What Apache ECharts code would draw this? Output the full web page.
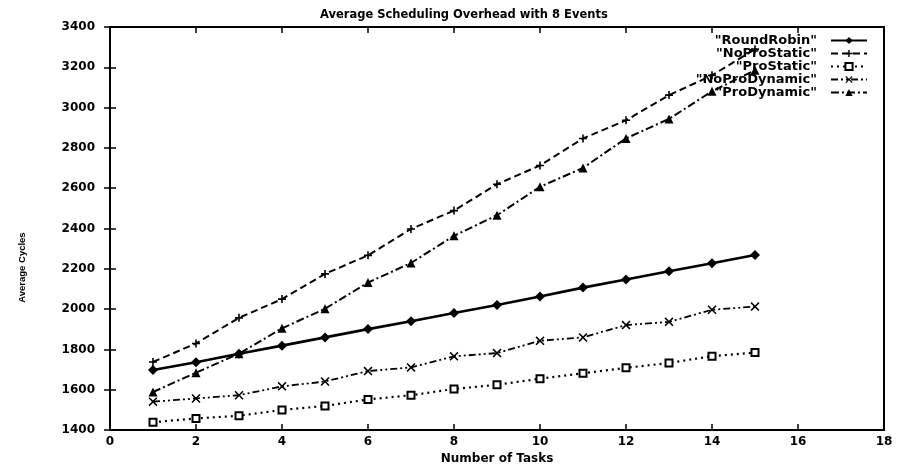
<!DOCTYPE html>
<html><head><meta charset="utf-8">
<script src="https://cdn.jsdelivr.net/npm/echarts@6/dist/echarts.min.js"></script>
<style>html,body{margin:0;padding:0;background:#fff}#c{width:898px;height:470px}</style>
</head><body><div id="c"></div>
<script>
const tasks = [1,2,3,4,5,6,7,8,9,10,11,12,13,14,15];
const roundRobin   = [1698,1737,1779,1819,1860,1901,1940,1981,2021,2063,2107,2147,2188,2228,2269];
const noProStatic  = [1738,1830,1957,2050,2175,2267,2398,2489,2620,2713,2847,2937,3062,3160,3290];
const proStatic    = [1439,1458,1471,1500,1520,1552,1573,1604,1625,1655,1682,1709,1733,1767,1785];
const noProDynamic = [1541,1557,1573,1617,1641,1693,1711,1766,1782,1843,1860,1921,1937,1997,2013];
const proDynamic   = [1589,1685,1779,1905,2002,2132,2229,2364,2466,2607,2701,2847,2944,3081,3185];
const seriesNames  = ['"RoundRobin"','"NoProStatic"','"ProStatic"','"NoProDynamic"','"ProDynamic"'];
const xTicks = [0,2,4,6,8,10,12,14,16,18];
const yTicks = [1400,1600,1800,2000,2200,2400,2600,2800,3000,3200,3400];

const FONT = 'DejaVu Sans';
const pair = arr => tasks.map((t,i)=>[t, arr[i]]);
const PLUS = 'path://M4,0H6V4H10V6H6V10H4V6H0V4H4Z';
const CROSS = 'path://M0,1.2L1.2,0L5,3.8L8.8,0L10,1.2L6.2,5L10,8.8L8.8,10L5,6.2L1.2,10L0,8.8L3.8,5Z';

function mk(name, data, symbol, size, dash, width){
  return {
    name, type:'line', data: pair(data), symbol, symbolSize:size,
    showAllSymbol:true, animation:false,
    lineStyle:{color:'#000', width:width, type:dash},
    itemStyle:{color:'#000', borderColor:'#000', borderWidth: symbol==='emptyRect'?2:0}
  };
}

const chart = echarts.init(document.getElementById('c'), null, {renderer:'canvas'});
const baseX = {type:'value', min:0, max:18, interval:2};
const baseY = {type:'value', min:1400, max:3400, interval:200};
chart.setOption({
  backgroundColor:'#fff',
  animation:false,
  title:{text:'Average Scheduling Overhead with 8 Events', left:315, top:4,
    textStyle:{fontFamily:FONT, fontSize:11.5, fontWeight:'bold', color:'#000'}},
  grid:{left:110, right:14, top:27, bottom:32, show:true, borderColor:'#000', borderWidth:2, backgroundColor:'transparent'},
  legend:{orient:'vertical', right:25, top:29, align:'right', itemWidth:36, itemHeight:9, itemGap:0,
    formatter: n => n + '  ',
    textStyle:{fontFamily:FONT, fontSize:13, fontWeight:'bold', color:'#000', lineHeight:13},
    data: seriesNames},
  xAxis:[
    Object.assign({}, baseX, {position:'bottom', name:'Number of Tasks', nameLocation:'middle', nameGap:20,
      nameTextStyle:{fontFamily:FONT, fontSize:12, fontWeight:'bold', color:'#000'},
      axisLine:{lineStyle:{color:'#000', width:2}},
      axisTick:{inside:true, length:6, lineStyle:{color:'#000', width:1.5}},
      axisLabel:{fontFamily:FONT, fontSize:12, fontWeight:'bold', color:'#000', margin:6,
        formatter: v => xTicks.includes(v) ? String(v) : ''},
      splitLine:{show:false}}),
    Object.assign({}, baseX, {position:'top',
      axisLine:{lineStyle:{color:'#000', width:2}},
      axisTick:{inside:true, length:6, lineStyle:{color:'#000', width:1.5}},
      axisLabel:{show:false}, splitLine:{show:false}})
  ],
  yAxis:[
    Object.assign({}, baseY, {position:'left', name:'Average Cycles', nameLocation:'middle', nameGap:83, nameRotate:90,
      nameTextStyle:{fontFamily:'Liberation Sans', fontSize:9.5, fontWeight:'bold', color:'#000', padding:[0,78,0,0]},
      axisLine:{show:true, lineStyle:{color:'#000', width:2}},
      axisTick:{show:true, inside:true, length:6, lineStyle:{color:'#000', width:1.5}},
      axisLabel:{fontFamily:FONT, fontSize:12, fontWeight:'bold', color:'#000', margin:15,
        formatter: v => yTicks.includes(v) ? String(v) : ''},
      splitLine:{show:false}}),
    Object.assign({}, baseY, {position:'right',
      axisLine:{show:true, lineStyle:{color:'#000', width:2}},
      axisTick:{show:true, inside:true, length:6, lineStyle:{color:'#000', width:1.5}},
      axisLabel:{show:false}, splitLine:{show:false}})
  ],
  series:[
    mk(seriesNames[0], roundRobin, 'diamond', 10, 'solid', 2.6),
    mk(seriesNames[1], noProStatic, PLUS, 8, [7,4], 2),
    mk(seriesNames[2], proStatic, 'emptyRect', 7, [2,4], 2.2),
    mk(seriesNames[3], noProDynamic, CROSS, 9, [7,3,2,3,2,3], 1.8),
    mk(seriesNames[4], proDynamic, 'triangle', 9, [8,3,2,3], 2)
  ]
});
</script></body></html>
